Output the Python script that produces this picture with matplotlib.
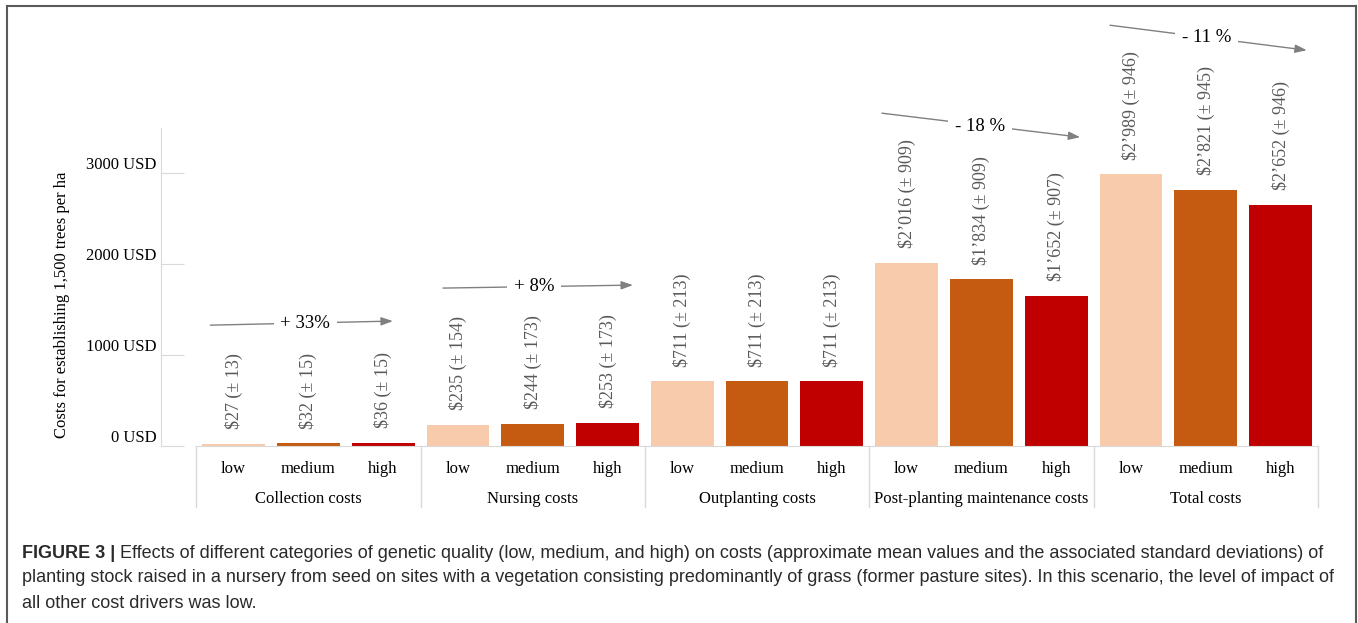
import matplotlib
matplotlib.use("Agg")
import matplotlib.pyplot as plt
from matplotlib.lines import Line2D
import numpy as np

# ---- data ----
groups = ["Collection costs", "Nursing costs", "Outplanting costs",
          "Post-planting maintenance costs", "Total costs"]
levels = ["low", "medium", "high"]
means = [[27, 32, 36], [235, 244, 253], [711, 711, 711],
         [2016, 1834, 1652], [2989, 2821, 2652]]
sds = [[13, 15, 15], [154, 173, 173], [213, 213, 213],
       [909, 909, 907], [946, 945, 946]]
changes = ["+ 33%", "+ 8%", None, "- 18 %", "- 11 %"]
yticks = [0, 1000, 2000, 3000]
ytick_labels = ["0 USD", "1000 USD", "2000 USD", "3000 USD"]
ylabel = "Costs for establishing 1,500 trees per ha"
caption_bold = "FIGURE 3 |"
caption_lines = [
    " Effects of different categories of genetic quality (low, medium, and high) on costs (approximate mean values and the associated standard deviations) of",
    "planting stock raised in a nursery from seed on sites with a vegetation consisting predominantly of grass (former pasture sites). In this scenario, the level of impact of",
    "all other cost drivers was low.",
]

# ---- style ----
colors = ["#F8CBAD", "#C55A11", "#C00000"]
serif = ["Liberation Serif", "DejaVu Serif"]
sans = ["Liberation Sans", "DejaVu Sans"]
grid_col = "#D9D9D9"
# arrow layout relative to group start: (dx start, dx end, dx text) and
# (y start, y end, y text) in data units
arrow_dx = {0: (-0.31, 2.13, 0.96), 1: (-0.20, 2.34, 1.02),
            3: (-0.33, 2.32, 0.98), 4: (-0.28, 2.35, 1.01)}
arrow_y = {0: (1330, 1375, 1353), 1: (1738, 1771, 1757),
           3: (3663, 3399, 3515), 4: (4631, 4356, 4495)}

W, H = 1358, 623
fig = plt.figure(figsize=(W / 100, H / 100), dpi=100)
ax = fig.add_axes([161 / W, (H - 446) / H, 1157 / W, 318 / H])

xs, hs, cs, labs = [], [], [], []
for g in range(len(groups)):
    for j in range(3):
        xs.append(3 * g + j)
        hs.append(means[g][j])
        cs.append(colors[j])
        v = f"{means[g][j]:,}".replace(",", "\u2019")
        labs.append(f"\\${v} (\u00b1 {sds[g][j]})")

bars = ax.bar(xs, hs, width=0.84, color=cs, zorder=2)
for x, h, lab in zip(xs, hs, labs):
    ax.annotate(lab, (x, h), xytext=(0, 10.5), textcoords="offset points",
                rotation=90, ha="center", va="bottom", fontsize=13,
                family=serif, color="#595959")

ax.set_xlim(-0.97, 14.5)
ax.set_ylim(0, 3500)

for s in ["top", "right"]:
    ax.spines[s].set_visible(False)
ax.spines["left"].set_color(grid_col)
ax.spines["bottom"].set_color(grid_col)
ax.spines["bottom"].set_bounds(-0.5, 14.5)

ax.set_yticks(yticks)
ax.set_yticklabels(ytick_labels, family=serif, fontsize=12, va="bottom")
ax.tick_params(axis="y", direction="in", length=16.5, color=grid_col, pad=3)

ax.set_xticks(xs)
ax.set_xticklabels([levels[j] for _ in groups for j in range(3)],
                   family=serif, fontsize=12)
ax.tick_params(axis="x", length=0, pad=11)

tr = ax.get_xaxis_transform()
for g, name in enumerate(groups):
    ax.text(3 * g + 1, -0.166, name, transform=tr, ha="center", va="center",
            family=serif, fontsize=12)
for b in np.arange(-0.5, 15, 3):
    ax.add_line(Line2D([b, b], [0, -0.192], transform=tr, color=grid_col,
                       lw=1, clip_on=False))

# change arrows
for g, txt in enumerate(changes):
    if txt is None:
        continue
    y0, y1, yt = arrow_y[g]
    d0, d1, dt = arrow_dx[g]
    x0, x1, xt = 3 * g + d0, 3 * g + d1, 3 * g + dt
    ax.annotate("", xy=(x1, y1), xytext=(x0, y0),
                arrowprops=dict(arrowstyle="-|>,head_length=0.7,head_width=0.25",
                                color="#808080", lw=1, shrinkA=0, shrinkB=0),
                annotation_clip=False)
    ax.text(xt, yt, txt, ha="center", va="center",
            family=serif, fontsize=13.5, clip_on=False,
            bbox=dict(boxstyle="square,pad=0.35", fc="white", ec="none"))

fig.text(62 / W, 1 - 305 / H, ylabel, rotation=90, ha="center", va="center",
         family=serif, fontsize=12)

# frame
fr = dict(color="#5A5A5A", lw=1.5, transform=fig.transFigure)
fig.add_artist(Line2D([7 / W, 7 / W], [1 - 6 / H, -0.1], **fr))
fig.add_artist(Line2D([1356 / W, 1356 / W], [1 - 6 / H, -0.1], **fr))
fig.add_artist(Line2D([7 / W, 1356 / W], [1 - 6 / H, 1 - 6 / H], **fr))

# caption
cap_fs = 13.0
cap_col = "#2A2A2A"
ys = [553, 578, 603]
t = fig.text(22 / W, 1 - ys[0] / H, caption_bold, family=sans, fontsize=cap_fs,
             weight="bold", va="center", ha="left", color=cap_col)
r = fig.canvas.get_renderer()
bb = t.get_window_extent(renderer=r)
fig.text(bb.x1 / W, 1 - ys[0] / H, caption_lines[0], family=sans,
         fontsize=cap_fs, va="center", ha="left", color=cap_col)
for yy, line in zip(ys[1:], caption_lines[1:]):
    fig.text(22 / W, 1 - yy / H, line, family=sans, fontsize=cap_fs,
             va="center", ha="left", color=cap_col)

fig.savefig("out.png", dpi=100)
